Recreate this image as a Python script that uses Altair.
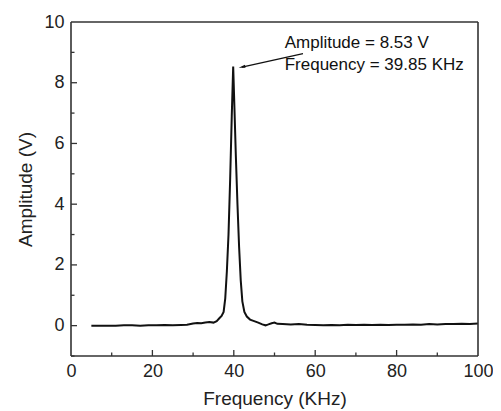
import altair as alt
import pandas as pd

# Spectrum
freq_khz = [5, 8, 11, 13, 15, 17, 19, 21, 23, 25, 27, 28.5, 30, 31, 32, 33, 34, 35, 35.8,
            36.5, 37.0, 37.5, 37.9, 38.3, 38.7, 39.1, 39.5, 39.85, 40.15, 40.5, 40.9,
            41.3, 41.7, 42.1, 42.6, 43.2, 44.0, 45.0, 46.0, 47.0, 47.8, 48.5, 49.3,
            50.0, 50.7, 52, 54, 56, 58, 60, 62, 64, 66, 68, 70, 72, 74, 76, 78, 80,
            82, 84, 86, 88, 90, 92, 94, 96, 98, 100]
amplitude_v = [0.0, 0.0, 0.0, 0.01, 0.01, 0.0, 0.01, 0.01, 0.02, 0.01, 0.02, 0.03, 0.07, 0.09, 0.08, 0.1, 0.12, 0.1, 0.15,
               0.25, 0.32, 0.45, 0.9, 1.8, 3.0, 4.8, 6.9, 8.53, 7.2, 5.6, 4.0,
               2.6, 1.5, 0.8, 0.45, 0.3, 0.2, 0.15, 0.1, 0.04, 0.01, 0.04, 0.08,
               0.1, 0.06, 0.05, 0.04, 0.05, 0.03, 0.02, 0.01, 0.02, 0.01, 0.03, 0.02, 0.03, 0.02, 0.03, 0.02, 0.03,
               0.03, 0.04, 0.03, 0.05, 0.04, 0.05, 0.05, 0.06, 0.05, 0.07]

x_major = [20, 40, 60, 80]
x_minor = [10, 30, 50, 70, 90]
y_major = [0, 2, 4, 6, 8]
y_minor = [-1, 1, 3, 5, 7, 9]
x_range = [0, 100]
y_range = [-1, 10]

note_lines = ["Amplitude = 8.53 V", "Frequency = 39.85 KHz"]
note_x = [52.5, 52.5]
note_y = [9.15, 8.42]
arrow_tail = (57.0, 8.96)
arrow_tip = (41.2, 8.49)

W, H = 407, 334
FONT = "Liberation Sans"
INK = "#333"

xs = alt.Scale(domain=x_range, nice=False, zero=False)
ys = alt.Scale(domain=y_range, nice=False, zero=False)

df = pd.DataFrame({"f": freq_khz, "a": amplitude_v})

line = alt.Chart(df).mark_line(color="#111", strokeWidth=2, interpolate="linear").encode(
    x=alt.X("f:Q", scale=xs, axis=alt.Axis(
        title="Frequency (KHz)", values=[0, 20, 40, 60, 80, 100], ticks=False, domain=False,
        grid=False, labelFlush=False, labelFontSize=18, labelFont=FONT, labelColor="#222", labelPadding=6,
        titleFont=FONT, titleFontSize=19, titleFontWeight="normal", titleColor="#222",
        titleX=W / 2, titleY=48, titleBaseline="alphabetic", titleAlign="center")),
    y=alt.Y("a:Q", scale=ys, axis=alt.Axis(
        title="Amplitude (V)", values=[0, 2, 4, 6, 8, 10], ticks=False, domain=False,
        grid=False, labelFlush=False, labelFontSize=18, labelFont=FONT, labelColor="#222", labelPadding=7,
        titleFont=FONT, titleFontSize=19, titleFontWeight="normal", titleColor="#222",
        titleX=-40, titleY=H / 2, titleAngle=270, titleBaseline="alphabetic", titleAlign="center")),
)

def xticks(vals, length):
    return alt.Chart(pd.DataFrame({"v": vals})).mark_rule(color=INK, strokeWidth=1.3).encode(
        x=alt.X("v:Q", scale=xs), y=alt.value(H), y2=alt.value(H - length))

def yticks(vals, length):
    return alt.Chart(pd.DataFrame({"v": vals})).mark_rule(color=INK, strokeWidth=1.3).encode(
        y=alt.Y("v:Q", scale=ys), x=alt.value(0), x2=alt.value(length))

# frame: horizontal edges (top, bottom) and vertical edges (left, right) in data units
h_edges = pd.DataFrame({"y": y_range, "x": [x_range[0]] * 2, "x2": [x_range[1]] * 2})
v_edges = pd.DataFrame({"x": x_range, "y": [y_range[0]] * 2, "y2": [y_range[1]] * 2})
frame_h = alt.Chart(h_edges).mark_rule(color=INK, strokeWidth=1.6).encode(
    x=alt.X("x:Q", scale=xs), x2="x2:Q", y=alt.Y("y:Q", scale=ys))
frame_v = alt.Chart(v_edges).mark_rule(color=INK, strokeWidth=1.6).encode(
    x=alt.X("x:Q", scale=xs), y=alt.Y("y:Q", scale=ys), y2="y2:Q")

notes = alt.Chart(pd.DataFrame({"t": note_lines, "x": note_x, "y": note_y})).mark_text(
    align="left", baseline="alphabetic", font=FONT, fontSize=17, color="#111").encode(
    x=alt.X("x:Q", scale=xs), y=alt.Y("y:Q", scale=ys), text="t:N")

arrow_df = pd.DataFrame({"x": [arrow_tail[0]], "y": [arrow_tail[1]],
                         "x2": [arrow_tip[0] + 0.8], "y2": [arrow_tip[1] + 0.025]})
arrow_line = alt.Chart(arrow_df).mark_rule(color="#111", strokeWidth=1.3).encode(
    x=alt.X("x:Q", scale=xs), y=alt.Y("y:Q", scale=ys), x2="x2:Q", y2="y2:Q")

head_df = pd.DataFrame({"x": [arrow_tip[0]], "y": [arrow_tip[1]]})
arrow_head = alt.Chart(head_df).mark_point(
    shape="M 0 0 L 2 -0.45 L 2 0.45 Z", size=45, filled=True, color="#111",
    opacity=1, angle=347, strokeWidth=0).encode(
    x=alt.X("x:Q", scale=xs), y=alt.Y("y:Q", scale=ys))

chart = alt.layer(
    line, xticks(x_major, 6), xticks(x_minor, 3.5), yticks(y_major, 6), yticks(y_minor, 3.5),
    frame_h, frame_v, notes, arrow_line, arrow_head
).properties(
    width=W, height=H,
    autosize=alt.AutoSizeParams(type="none"),
    padding={"left": 63, "top": 14, "right": 15, "bottom": 56},
    background="white",
).configure_view(stroke=None)

chart.save("out.html", embed_options={"renderer": "svg", "actions": False})
